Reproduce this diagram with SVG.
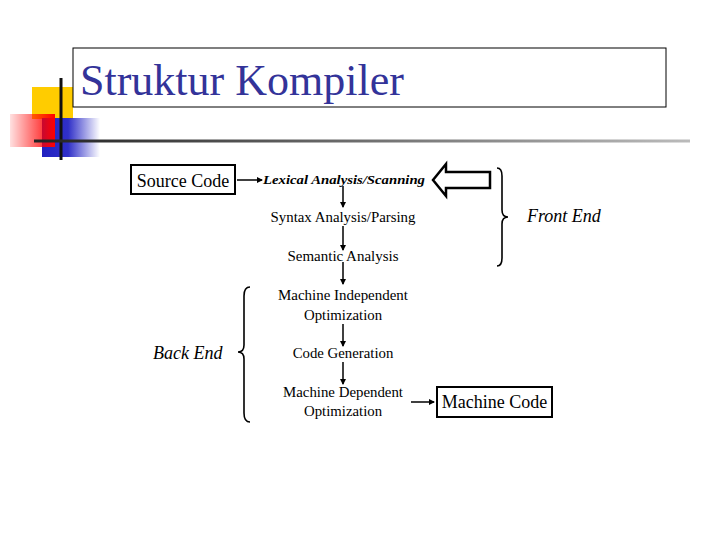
<svg xmlns="http://www.w3.org/2000/svg" width="720" height="540" viewBox="0 0 720 540">
<defs>
<style>
.t{font-family:'Liberation Serif','Times New Roman',serif;font-size:14.8px;fill:#000;text-anchor:middle}
.box{fill:#fff;stroke:#000;stroke-width:2}
.ln{stroke:#000;stroke-width:1.5;fill:none}
.lbl{font-family:'Liberation Serif','Times New Roman',serif;font-size:18px;font-style:italic;fill:#000}
.br{stroke:#000;stroke-width:1.6;fill:none}
</style>
<marker id="ah" markerWidth="6" markerHeight="6" refX="5" refY="3" orient="auto" markerUnits="userSpaceOnUse">
<path d="M0,0 L6,3 L0,6 z" fill="#000"/>
</marker>
<linearGradient id="gRed" x1="0" y1="0" x2="1" y2="0">
<stop offset="0" stop-color="#ff0000" stop-opacity="0.12"/>
<stop offset="1" stop-color="#ff0000"/>
</linearGradient>
<linearGradient id="gBlue" x1="0" y1="0" x2="1" y2="0">
<stop offset="0" stop-color="#2020c0"/>
<stop offset="0.45" stop-color="#3030c8"/>
<stop offset="1" stop-color="#3030c8" stop-opacity="0"/>
</linearGradient>
<linearGradient id="gLine" x1="0" y1="0" x2="1" y2="0">
<stop offset="0" stop-color="#222"/>
<stop offset="1" stop-color="#bbb"/>
</linearGradient>
</defs>
<rect width="720" height="540" fill="#fff"/>

<g id="decoration">
<rect x="32" y="87" width="41" height="32" fill="#ffcc00"/>
<rect x="42" y="118" width="58" height="39" fill="url(#gBlue)"/>
<rect x="10" y="114" width="45" height="33" fill="url(#gRed)"/>
<line x1="61" y1="78" x2="61" y2="160" stroke="#111" stroke-width="3"/>
<rect x="34" y="139.5" width="656" height="3" fill="url(#gLine)"/>
</g>

<g id="title">
<rect x="73" y="48" width="593" height="59" fill="#fff" stroke="#000" stroke-width="1"/>
<text x="80" y="95" font-family="'Liberation Serif','Times New Roman',serif" font-size="44" fill="#333399">Struktur Kompiler</text>
</g>

<g id="source-code">
<rect class="box" x="131" y="165" width="104" height="29"/>
<text class="t" x="183" y="187" style="font-size:18px">Source Code</text>
</g>

<g id="lexical">
<text class="t" x="344" y="184" style="font-weight:bold;font-style:italic;font-size:13.5px" textLength="162" lengthAdjust="spacingAndGlyphs">Lexical Analysis/Scanning</text>
</g>

<g id="syntax">
<text class="t" x="343" y="222" textLength="145" lengthAdjust="spacingAndGlyphs">Syntax Analysis/Parsing</text>
</g>

<g id="semantic">
<text class="t" x="343" y="261" textLength="111" lengthAdjust="spacingAndGlyphs">Semantic Analysis</text>
</g>

<g id="mi-opt">
<text class="t" x="343" y="300" textLength="130" lengthAdjust="spacingAndGlyphs">Machine Independent</text>
<text class="t" x="343" y="320">Optimization</text>
</g>

<g id="codegen">
<text class="t" x="343" y="358">Code Generation</text>
</g>

<g id="md-opt">
<text class="t" x="343" y="397" textLength="120" lengthAdjust="spacingAndGlyphs">Machine Dependent</text>
<text class="t" x="343" y="416">Optimization</text>
</g>

<g id="machine-code">
<rect class="box" x="437" y="387" width="115" height="30"/>
<text class="t" x="494.5" y="408" style="font-size:18px">Machine Code</text>
</g>

<g id="input-arrow">
<polygon points="433,180 446,164 446,172 490,172 490,188 446,188 446,196" fill="#fff" stroke="#000" stroke-width="2.5" stroke-linejoin="miter"/>
</g>

<g id="front-end">
<path class="br" d="M497,168 Q502,168 502,176 L502,210 Q502,217 508,217 Q502,217 502,224 L502,258 Q502,266 497,266"/>
<text class="lbl" x="527" y="222">Front End</text>
</g>

<g id="back-end">
<path class="br" d="M250,287 Q244,287 244,296 L244,345 Q244,352 238,352 Q244,352 244,359 L244,413 Q244,422 250,422"/>
<text class="lbl" x="153" y="359">Back End</text>
</g>

<g id="connectors">
<line class="ln" x1="237" y1="180" x2="262" y2="180" marker-end="url(#ah)"/>
<line class="ln" x1="343" y1="186" x2="343" y2="207" marker-end="url(#ah)"/>
<line class="ln" x1="343" y1="226" x2="343" y2="250" marker-end="url(#ah)"/>
<line class="ln" x1="343" y1="262" x2="343" y2="284" marker-end="url(#ah)"/>
<line class="ln" x1="343" y1="324" x2="343" y2="346" marker-end="url(#ah)"/>
<line class="ln" x1="343" y1="362" x2="343" y2="384" marker-end="url(#ah)"/>
<line class="ln" x1="411" y1="402" x2="434" y2="402" marker-end="url(#ah)"/>
</g>
</svg>
